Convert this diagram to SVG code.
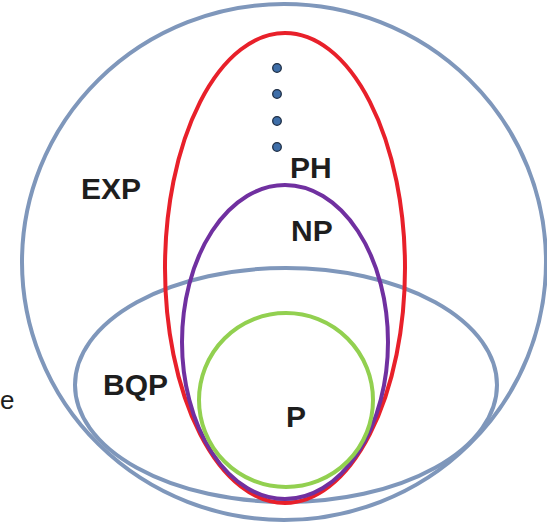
<svg xmlns="http://www.w3.org/2000/svg" width="547" height="522" viewBox="0 0 547 522">
<style>
.c{fill:none;stroke-width:4}
.b{stroke:#7f97bb}
.lbl{font-family:"Liberation Sans",Arial,sans-serif;font-weight:bold;font-size:30px;fill:#1e1e1e}
.dot{fill:#3e6ea8;stroke:#1d2d44;stroke-width:1.3}
</style>
<rect width="547" height="522" fill="#fff"/>
<g id="EXP">
<ellipse class="c b" cx="284" cy="262" rx="262" ry="258"/>
<text class="lbl" x="81" y="199">EXP</text>
</g>
<g id="BQP">
<ellipse class="c b" cx="286" cy="385" rx="211" ry="117"/>
<text class="lbl" x="103" y="395">BQP</text>
</g>
<g id="PH">
<ellipse class="c" stroke="#e8202a" cx="285" cy="268" rx="120" ry="235"/>
<text class="lbl" x="290" y="178">PH</text>
<circle class="dot" cx="277" cy="68" r="4.3"/>
<circle class="dot" cx="277" cy="94" r="4.3"/>
<circle class="dot" cx="277" cy="121" r="4.3"/>
<circle class="dot" cx="277" cy="147" r="4.3"/>
</g>
<g id="NP">
<ellipse class="c" stroke="#7030a0" cx="285" cy="342" rx="103" ry="157"/>
<text class="lbl" x="291" y="241">NP</text>
</g>
<g id="P">
<circle class="c" stroke="#92d050" cx="286" cy="400" r="87"/>
<text class="lbl" x="286" y="427">P</text>
</g>
<text x="0" y="409" style="font-family:'Liberation Sans',Arial,sans-serif;font-size:26px;fill:#1e1e1e">e</text>
<g id="connectors"/>
</svg>
